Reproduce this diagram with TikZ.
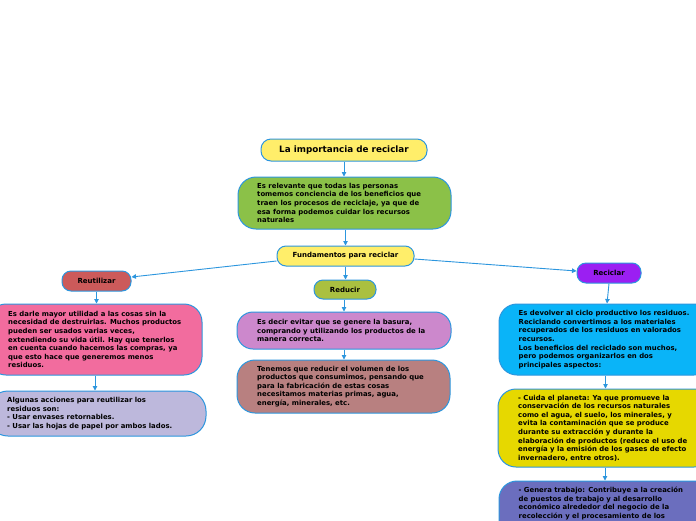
\documentclass[tikz,border=0pt]{standalone}
\usepackage{fontspec}
\setmainfont{DejaVu Sans}
\usetikzlibrary{arrows.meta}
\definecolor{edgeblue}{RGB}{44,150,222}
\definecolor{cTitle}{RGB}{255,238,106}
\definecolor{cGreen}{RGB}{139,193,72}
\definecolor{cReducir}{RGB}{170,192,64}
\definecolor{cViolet}{RGB}{204,136,204}
\definecolor{cMauve}{RGB}{184,128,128}
\definecolor{cReut}{RGB}{204,90,90}
\definecolor{cPink}{RGB}{242,108,158}
\definecolor{cLav}{RGB}{189,184,220}
\definecolor{cRecic}{RGB}{155,31,242}
\definecolor{cCyan}{RGB}{10,180,248}
\definecolor{cYellow}{RGB}{230,216,0}
\definecolor{cBlue}{RGB}{107,110,190}
\tikzset{
  box/.style={draw=edgeblue, line width=1pt, rounded corners=#1, inner sep=0pt},
  box/.default=16pt,
  pill/.style={draw=edgeblue, line width=1pt, rounded corners=9pt, inner sep=0pt,
    font=\bfseries\fontsize{7}{8.6}\selectfont},
  txt/.style={inner sep=0pt, align=left, anchor=west,
    font=\bfseries\fontsize{6.9}{8.6}\selectfont},
  conn/.style={draw=edgeblue, line width=0.9pt, -{Triangle[width=4.5pt,length=4.5pt]}},
}
\begin{document}
\begin{tikzpicture}[x=1pt,y=-1pt]
\useasboundingbox[fill=white] (0,0) rectangle (696,520);

% center column
\node[pill, fill=cTitle, minimum width=166pt, minimum height=22pt, rounded corners=10pt,
  font=\bfseries\fontsize{8.8}{10}\selectfont] (title) at (344,150) {La importancia de reciclar};
\node[box=18pt, fill=cGreen, minimum width=213pt, minimum height=52pt] (green) at (344.5,203) {};
\node[txt] (tgreen) at (257,203) {Es relevante que todas las personas\\tomemos conciencia de los beneficios que\\traen los procesos de reciclaje, ya que de\\esa forma podemos cuidar los recursos\\naturales};
\node[pill, fill=cTitle, minimum width=137pt, minimum height=20pt] (fund) at (345.5,256) {Fundamentos para reciclar};
\node[pill, fill=cReducir, minimum width=62pt, minimum height=19pt] (reducir) at (345,289.5) {Reducir};
\node[box=16pt, fill=cViolet, minimum width=214pt, minimum height=37pt] (violet) at (344,330.5) {};
\node[txt] (tviolet) at (257,330.5) {Es decir evitar que se genere la basura,\\comprando y utilizando los productos de la\\manera correcta.};
\node[box=18pt, fill=cMauve, minimum width=213pt, minimum height=53pt] (mauve) at (343.5,386.5) {};
\node[txt] (tmauve) at (257,386.5) {Tenemos que reducir el volumen de los\\productos que consumimos, pensando que\\para la fabricación de estas cosas\\necesitamos materias primas, agua,\\energía, minerales, etc.};

% left column
\node[pill, fill=cReut, minimum width=69pt, minimum height=20pt] (reut) at (96.5,281) {Reutilizar};
\node[box=18pt, fill=cPink, minimum width=214pt, minimum height=71pt] (pink) at (95,339.5) {};
\node[txt] (tpink) at (8,339.5) {Es darle mayor utilidad a las cosas sin la\\necesidad de destruirlas. Muchos productos\\pueden ser usados varias veces,\\extendiendo su vida útil. Hay que tenerlos\\en cuenta cuando hacemos las compras, ya\\que esto hace que generemos menos\\residuos.};
\node[box=20pt, fill=cLav, minimum width=218pt, minimum height=45pt] (lav) at (97,413.5) {};
\node[txt] (tlav) at (7,413.5) {Algunas acciones para reutilizar los\\residuos son:\\- Usar envases retornables.\\- Usar las hojas de papel por ambos lados.};

% right column
\node[pill, fill=cRecic, minimum width=64pt, minimum height=20pt] (recic) at (609,273) {Reciclar};
\node[box=18pt, fill=cCyan, minimum width=213pt, minimum height=71pt] (cyan) at (605.5,339.5) {};
\node[txt] (tcyan) at (518.5,339.5) {Es devolver al ciclo productivo los residuos.\\Reciclando convertimos a los materiales\\recuperados de los residuos en valorados\\recursos.\\Los beneficios del reciclado son muchos,\\pero podemos organizarlos en dos\\principales aspectos:};
\node[box=18pt, fill=cYellow, minimum width=214pt, minimum height=78pt] (yellow) at (605,428) {};
\node[txt] (tyellow) at (518,428) {- Cuida el planeta: Ya que promueve la\\conservación de los recursos naturales\\como el agua, el suelo, los minerales, y\\evita la contaminación que se produce\\durante su extracción y durante la\\elaboración de productos (reduce el uso de\\energía y la emisión de los gases de efecto\\invernadero, entre otros).};
\node[box=18pt, fill=cBlue, minimum width=213pt, minimum height=59pt] (bluebox) at (605.5,510.5) {};
\node[txt, anchor=north west] (tblue) at (518.5,487) {- Genera trabajo: Contribuye a la creación\\de puestos de trabajo y al desarrollo\\económico alrededor del negocio de la\\recolección y el procesamiento de los};

% connectors
\draw[conn] (title.south) -- (title.south |- green.north);
\draw[conn] (green.south -| fund.north) -- (fund.north);
\draw[conn] (fund.south) -- (fund.south |- reducir.north);
\draw[conn] (reducir.south -| violet.north) -- (violet.north);
\draw[conn] (violet.south) -- (violet.south |- mauve.north);
\draw[conn] ([yshift=-5pt]fund.west) -- ([yshift=4pt]reut.east);
\draw[conn] ([yshift=-3pt]fund.east) -- ([yshift=2pt]recic.west);
\draw[conn] (reut.south) -- (reut.south |- pink.north);
\draw[conn] (pink.south) -- (pink.south |- lav.north);
\draw[conn] (recic.south) -- ([xshift=-2pt]recic.south |- cyan.north);
\draw[conn] (cyan.south) -- (cyan.south |- yellow.north);
\draw[conn] (yellow.south) -- (yellow.south |- bluebox.north);
\end{tikzpicture}
\end{document}
